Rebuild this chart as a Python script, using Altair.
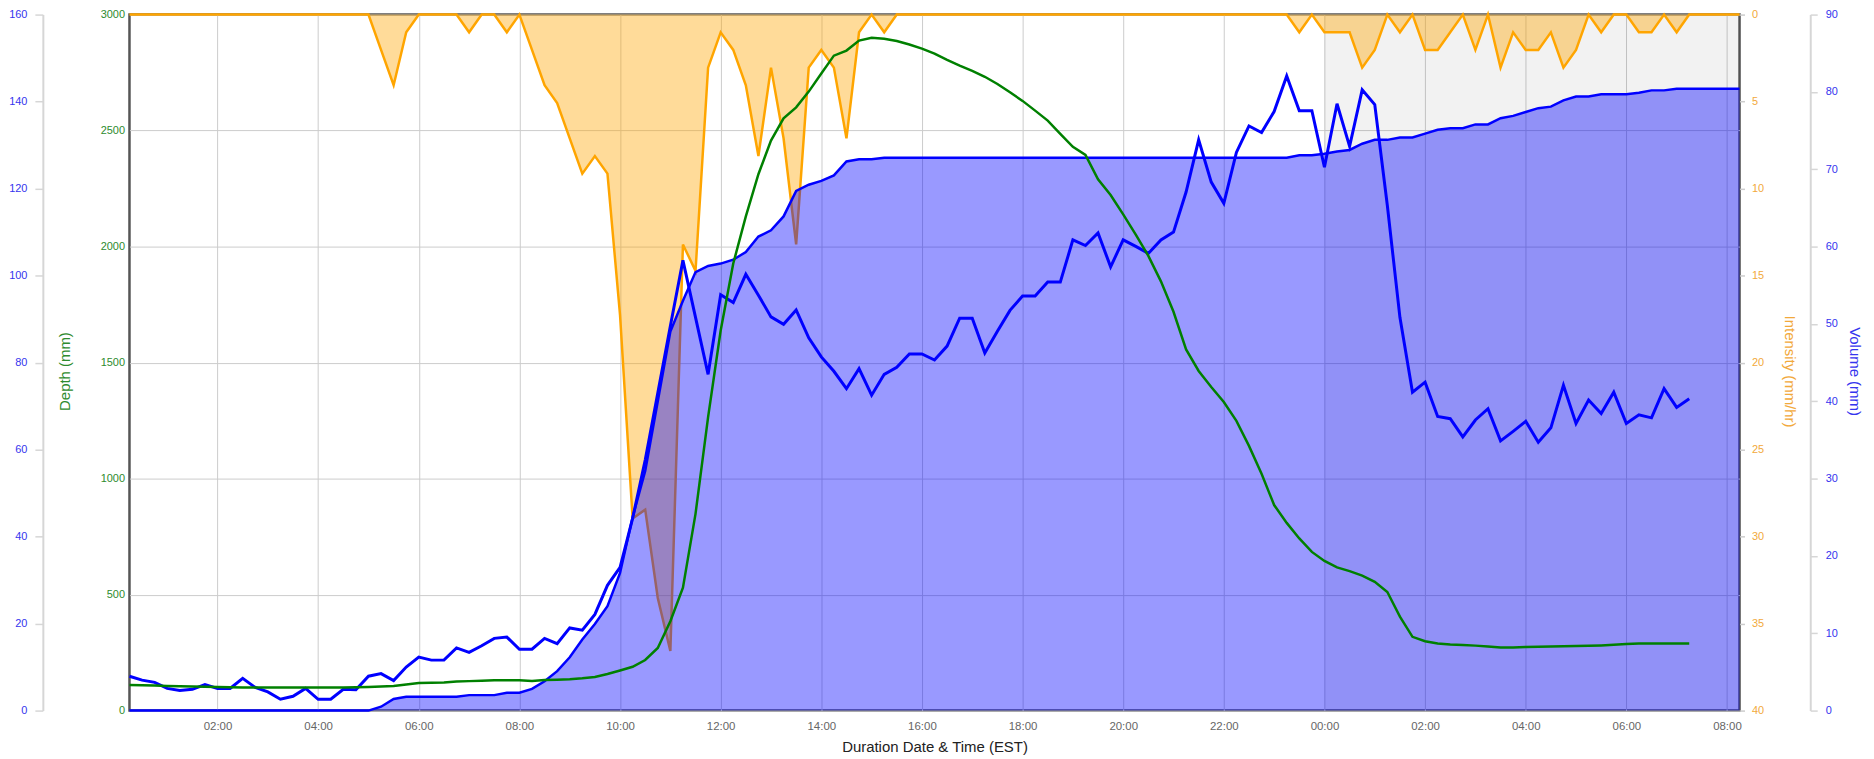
import altair as alt
import pandas as pd

# ---------------- data (15-minute steps from 00:15 on day 1) ----------------
START = "2024-05-01 00:15"
DAY_START = "2024-05-01 00:00"

# Rain intensity (mm/hr), 00:15 day 1 .. 08:15 day 2
intensity = [
    0, 0, 0, 0, 0, 0, 0, 0, 0, 0, 0, 0, 0, 0, 0, 0, 0, 0, 0, 0,
    2.03, 4.06, 1.02, 0, 0, 0, 0, 1.02, 0, 0, 1.02, 0, 2.03, 4.06, 5.08, 7.11, 9.14, 8.13, 9.14, 17.27,
    28.96, 28.45, 33.53, 36.58, 13.21, 14.73, 3.05, 1.02, 2.03, 4.06, 8.13, 3.05, 7.11, 13.21, 3.05, 2.03, 3.05, 7.11, 1.02, 0,
    1.02, 0, 0, 0, 0, 0, 0, 0, 0, 0, 0, 0, 0, 0, 0, 0, 0, 0, 0, 0,
    0, 0, 0, 0, 0, 0, 0, 0, 0, 0, 0, 0, 0, 1.02, 0, 1.02, 1.02, 1.02, 3.05, 2.03,
    0, 1.02, 0, 2.03, 2.03, 1.02, 0, 2.03, 0, 3.05, 1.02, 2.03, 2.03, 1.02, 3.05, 2.03, 0, 1.02, 0, 0,
    1.02, 1.02, 0, 1.02, 0, 0, 0, 0, 0,
]

# Cumulative volume (mm)
volume = [
    0, 0, 0, 0, 0, 0, 0, 0, 0, 0, 0, 0, 0, 0, 0, 0, 0, 0, 0, 0,
    0.5, 1.5, 1.8, 1.8, 1.8, 1.8, 1.8, 2.0, 2.0, 2.0, 2.3, 2.3, 2.8, 3.8, 5.1, 6.9, 9.2, 11.2, 13.5, 17.8,
    25.0, 31.0, 40.0, 49.0, 53.0, 56.7, 57.5, 57.8, 58.3, 59.3, 61.3, 62.1, 63.9, 67.2, 68.0, 68.5, 69.2, 71.0, 71.3, 71.3,
    71.5, 71.5, 71.5, 71.5, 71.5, 71.5, 71.5, 71.5, 71.5, 71.5, 71.5, 71.5, 71.5, 71.5, 71.5, 71.5, 71.5, 71.5, 71.5, 71.5,
    71.5, 71.5, 71.5, 71.5, 71.5, 71.5, 71.5, 71.5, 71.5, 71.5, 71.5, 71.5, 71.5, 71.8, 71.8, 72.0, 72.3, 72.5, 73.3, 73.8,
    73.8, 74.1, 74.1, 74.6, 75.1, 75.3, 75.3, 75.8, 75.8, 76.6, 76.9, 77.4, 77.9, 78.1, 78.9, 79.4, 79.4, 79.7, 79.7, 79.7,
    79.9, 80.2, 80.2, 80.4, 80.4, 80.4, 80.4, 80.4, 80.4,
]

# Depth (mm), blue line, 00:15 day 1 .. 07:15 day 2
depth = [
    7.9, 7.0, 6.5, 5.1, 4.6, 4.9, 6.0, 5.1, 5.1, 7.4, 5.3, 4.3, 2.6, 3.3, 5.1, 2.6, 2.6, 4.9, 4.8, 7.9,
    8.5, 6.9, 10.0, 12.3, 11.6, 11.6, 14.4, 13.4, 14.9, 16.6, 16.9, 14.1, 14.1, 16.6, 15.4, 19.0, 18.5, 22.1, 28.8, 32.9,
    44.2, 57.6, 73.0, 88.4, 103.5, 90.4, 77.3, 95.6, 93.8, 100.3, 95.5, 90.5, 88.8, 92.1, 85.7, 81.3, 78.0, 74.0, 78.6, 72.5,
    77.3, 78.9, 82.0, 82.0, 80.6, 83.8, 90.2, 90.2, 82.2, 87.2, 92.0, 95.3, 95.3, 98.5, 98.5, 108.2, 106.9, 109.8, 102.0, 108.2,
    106.7, 105.1, 108.2, 110.0, 119.2, 131.2, 121.5, 116.6, 128.3, 134.4, 132.9, 137.7, 145.9, 137.9, 137.9, 124.9, 139.5, 129.7, 142.7, 139.3,
    116.1, 90.4, 73.2, 75.5, 67.6, 67.1, 62.9, 66.8, 69.4, 62.0, 64.2, 66.5, 61.7, 65.0, 74.8, 66.0, 71.4, 68.3, 73.2, 66.0,
    68.0, 67.3, 74.0, 69.7, 71.7,
]

# Green series on the 0-3000 scale
flow = [
    110, 109, 108, 106, 105, 104, 103, 102, 101, 100, 100, 100, 100, 100, 100, 100, 100, 100, 101, 102,
    104, 106, 112, 119, 120, 121, 125, 127, 129, 131, 131, 131, 128, 132, 133, 135, 139, 145, 158, 173,
    189, 218, 270, 385, 530, 848, 1265, 1638, 1927, 2130, 2312, 2457, 2553, 2600, 2668, 2746, 2823, 2845, 2888, 2900,
    2896, 2886, 2871, 2853, 2832, 2805, 2780, 2757, 2732, 2701, 2665, 2628, 2586, 2543, 2486, 2430, 2395, 2290, 2222, 2139,
    2052, 1960, 1850, 1719, 1557, 1464, 1395, 1330, 1249, 1141, 1021, 886, 809, 742, 684, 645, 617, 601, 582, 555,
    511, 405, 318, 299, 289, 285, 283, 280, 276, 272, 272, 274, 275, 276, 277, 278, 279, 281, 284, 287,
    289, 289, 289, 289, 289,
]

# shaded period: from midnight (day 2) to end of record
band_start = ["2024-05-02 00:00"]
band_end = ["2024-05-02 08:15"]
x_start = "2024-05-01 00:15"
x_end = "2024-05-02 08:15"
x_ticks_hours = [2, 4, 6, 8, 10, 12, 14, 16, 18, 20, 22, 24, 26, 28, 30, 32]

# hours elapsed since midnight of day 1 (for the x scale)
day0 = pd.Timestamp(DAY_START)
def hours(ts):
    return (pd.to_datetime(ts) - day0) / pd.Timedelta(hours=1)

times = pd.date_range(START, periods=len(intensity), freq="15min")
t_hours = list(hours(times))
df_rain = pd.DataFrame({"t": t_hours, "intensity": intensity, "volume": volume})
df_lvl = pd.DataFrame({"t": t_hours[: len(depth)], "depth": depth, "flow": flow})
df_band = pd.DataFrame({"start": list(hours(band_start)), "end": list(hours(band_end))})

# ---------------- styling ----------------
W, H = 1617, 699
FONT = "Liberation Sans"
GREEN_TXT = "#2e8b2e"
BLUE_TXT = "#3535ee"
ORANGE_TXT = "#f2a93b"
GRID = "#cccccc"

x_scale = alt.Scale(domain=[float(hours(x_start)), float(hours(x_end))], nice=False, zero=False)
x_axis = alt.Axis(
    values=x_ticks_hours,
    labelExpr="(datum.value % 24 < 10 ? '0' : '') + (datum.value % 24) + ':00'",
    grid=True, gridColor=GRID, gridWidth=1,
    domain=False, ticks=False, tickSize=0,
    labelPadding=10, labelColor="#666666", labelFontSize=11.5, labelFont=FONT,
    labelFlush=False,
    title="Duration Date & Time (EST)", titleFont=FONT, titleFontSize=15,
    titleFontWeight="normal", titleColor="#222222",
    titleX=W / 2, titleY=41, titleAlign="center", titleBaseline="alphabetic",
)


def X(field="t"):
    return alt.X(f"{field}:Q", scale=x_scale, axis=x_axis)


band = alt.Chart(df_band).mark_rect(color="#000000", opacity=0.05).encode(
    x=X("start"), x2="end:Q", y=alt.value(0), y2=alt.value(H)
)

int_scale = alt.Scale(domain=[0, 40], reverse=True, nice=False)
int_axis = alt.Axis(
    orient="right", offset=0, values=list(range(0, 41, 5)), format="d",
    grid=False, domain=False, ticks=True, tickSize=5, tickColor=GRID, tickWidth=1.5,
    labelPadding=7, labelColor=ORANGE_TXT, labelFontSize=11, labelFont=FONT,
    title="Intensity (mm/hr)", titleColor=ORANGE_TXT, titleFont=FONT, titleFontSize=15,
    titleFontWeight="normal", titleAngle=90, titleX=50, titleY=358,
    titleAlign="center", titleBaseline="middle",
)
int_area = alt.Chart(df_rain).mark_area(fill="#ffa500", fillOpacity=0.4).encode(
    x=X(), y=alt.Y("intensity:Q", scale=int_scale, axis=int_axis)
)
int_line = alt.Chart(df_rain).mark_line(color="#ffa500", strokeWidth=2.5).encode(
    x=X(), y=alt.Y("intensity:Q", scale=int_scale, axis=None)
)

vol_scale = alt.Scale(domain=[0, 90], nice=False)
vol_axis = alt.Axis(
    orient="right", offset=71, values=list(range(0, 91, 10)), format="d",
    grid=False, domain=True, domainColor="#d6d6d6", domainWidth=2,
    ticks=True, tickSize=7, tickColor="#d6d6d6", tickWidth=1.5,
    labelPadding=8, labelColor=BLUE_TXT, labelFontSize=11, labelFont=FONT,
    title="Volume (mm)", titleColor=BLUE_TXT, titleFont=FONT, titleFontSize=15,
    titleFontWeight="normal", titleAngle=90, titleX=44, titleY=358,
    titleAlign="center", titleBaseline="middle",
)
vol_area = alt.Chart(df_rain).mark_area(fill="#0000ff", fillOpacity=0.4).encode(
    x=X(), y=alt.Y("volume:Q", scale=vol_scale, axis=vol_axis)
)
vol_line = alt.Chart(df_rain).mark_line(color="#0000ff", strokeWidth=2.5).encode(
    x=X(), y=alt.Y("volume:Q", scale=vol_scale, axis=None)
)

dep_axis = alt.Axis(
    orient="left", offset=87, values=list(range(0, 161, 20)), format="d",
    grid=False, domain=True, domainColor="#d6d6d6", domainWidth=2,
    ticks=True, tickSize=8, tickColor="#d6d6d6", tickWidth=1.5,
    labelPadding=8, labelColor=BLUE_TXT, labelFontSize=11, labelFont=FONT,
    title=None,
)
dep_line = alt.Chart(df_lvl).mark_line(color="#0000ff", strokeWidth=3).encode(
    x=X(), y=alt.Y("depth:Q", scale=alt.Scale(domain=[0, 160], nice=False), axis=dep_axis)
)

flow_axis = alt.Axis(
    orient="left", offset=0, values=list(range(0, 3001, 500)), format="d",
    grid=True, gridColor=GRID, gridWidth=1,
    domain=False, ticks=False, tickSize=0,
    labelPadding=5, labelColor=GREEN_TXT, labelFontSize=11, labelFont=FONT,
    title="Depth (mm)", titleColor=GREEN_TXT, titleFont=FONT, titleFontSize=15,
    titleFontWeight="normal", titleAngle=270, titleX=-65, titleY=358,
    titleAlign="center", titleBaseline="middle",
)
flow_line = alt.Chart(df_lvl).mark_line(color="#008000", strokeWidth=2.5).encode(
    x=X(), y=alt.Y("flow:Q", scale=alt.Scale(domain=[0, 3000], nice=False), axis=flow_axis)
)

chart = (
    alt.layer(band, int_area, int_line, vol_area, vol_line, dep_line, flow_line)
    .resolve_scale(y="independent")
    .properties(
        width=W,
        height=H,
        padding={"left": 122, "top": 5, "right": 127, "bottom": 45},
        autosize=alt.AutoSizeParams(type="none"),
        background="white",
    )
    .configure_view(stroke="#555555", strokeWidth=2.5)
)

chart.save("out.html", embed_options={"renderer": "svg", "actions": False})
